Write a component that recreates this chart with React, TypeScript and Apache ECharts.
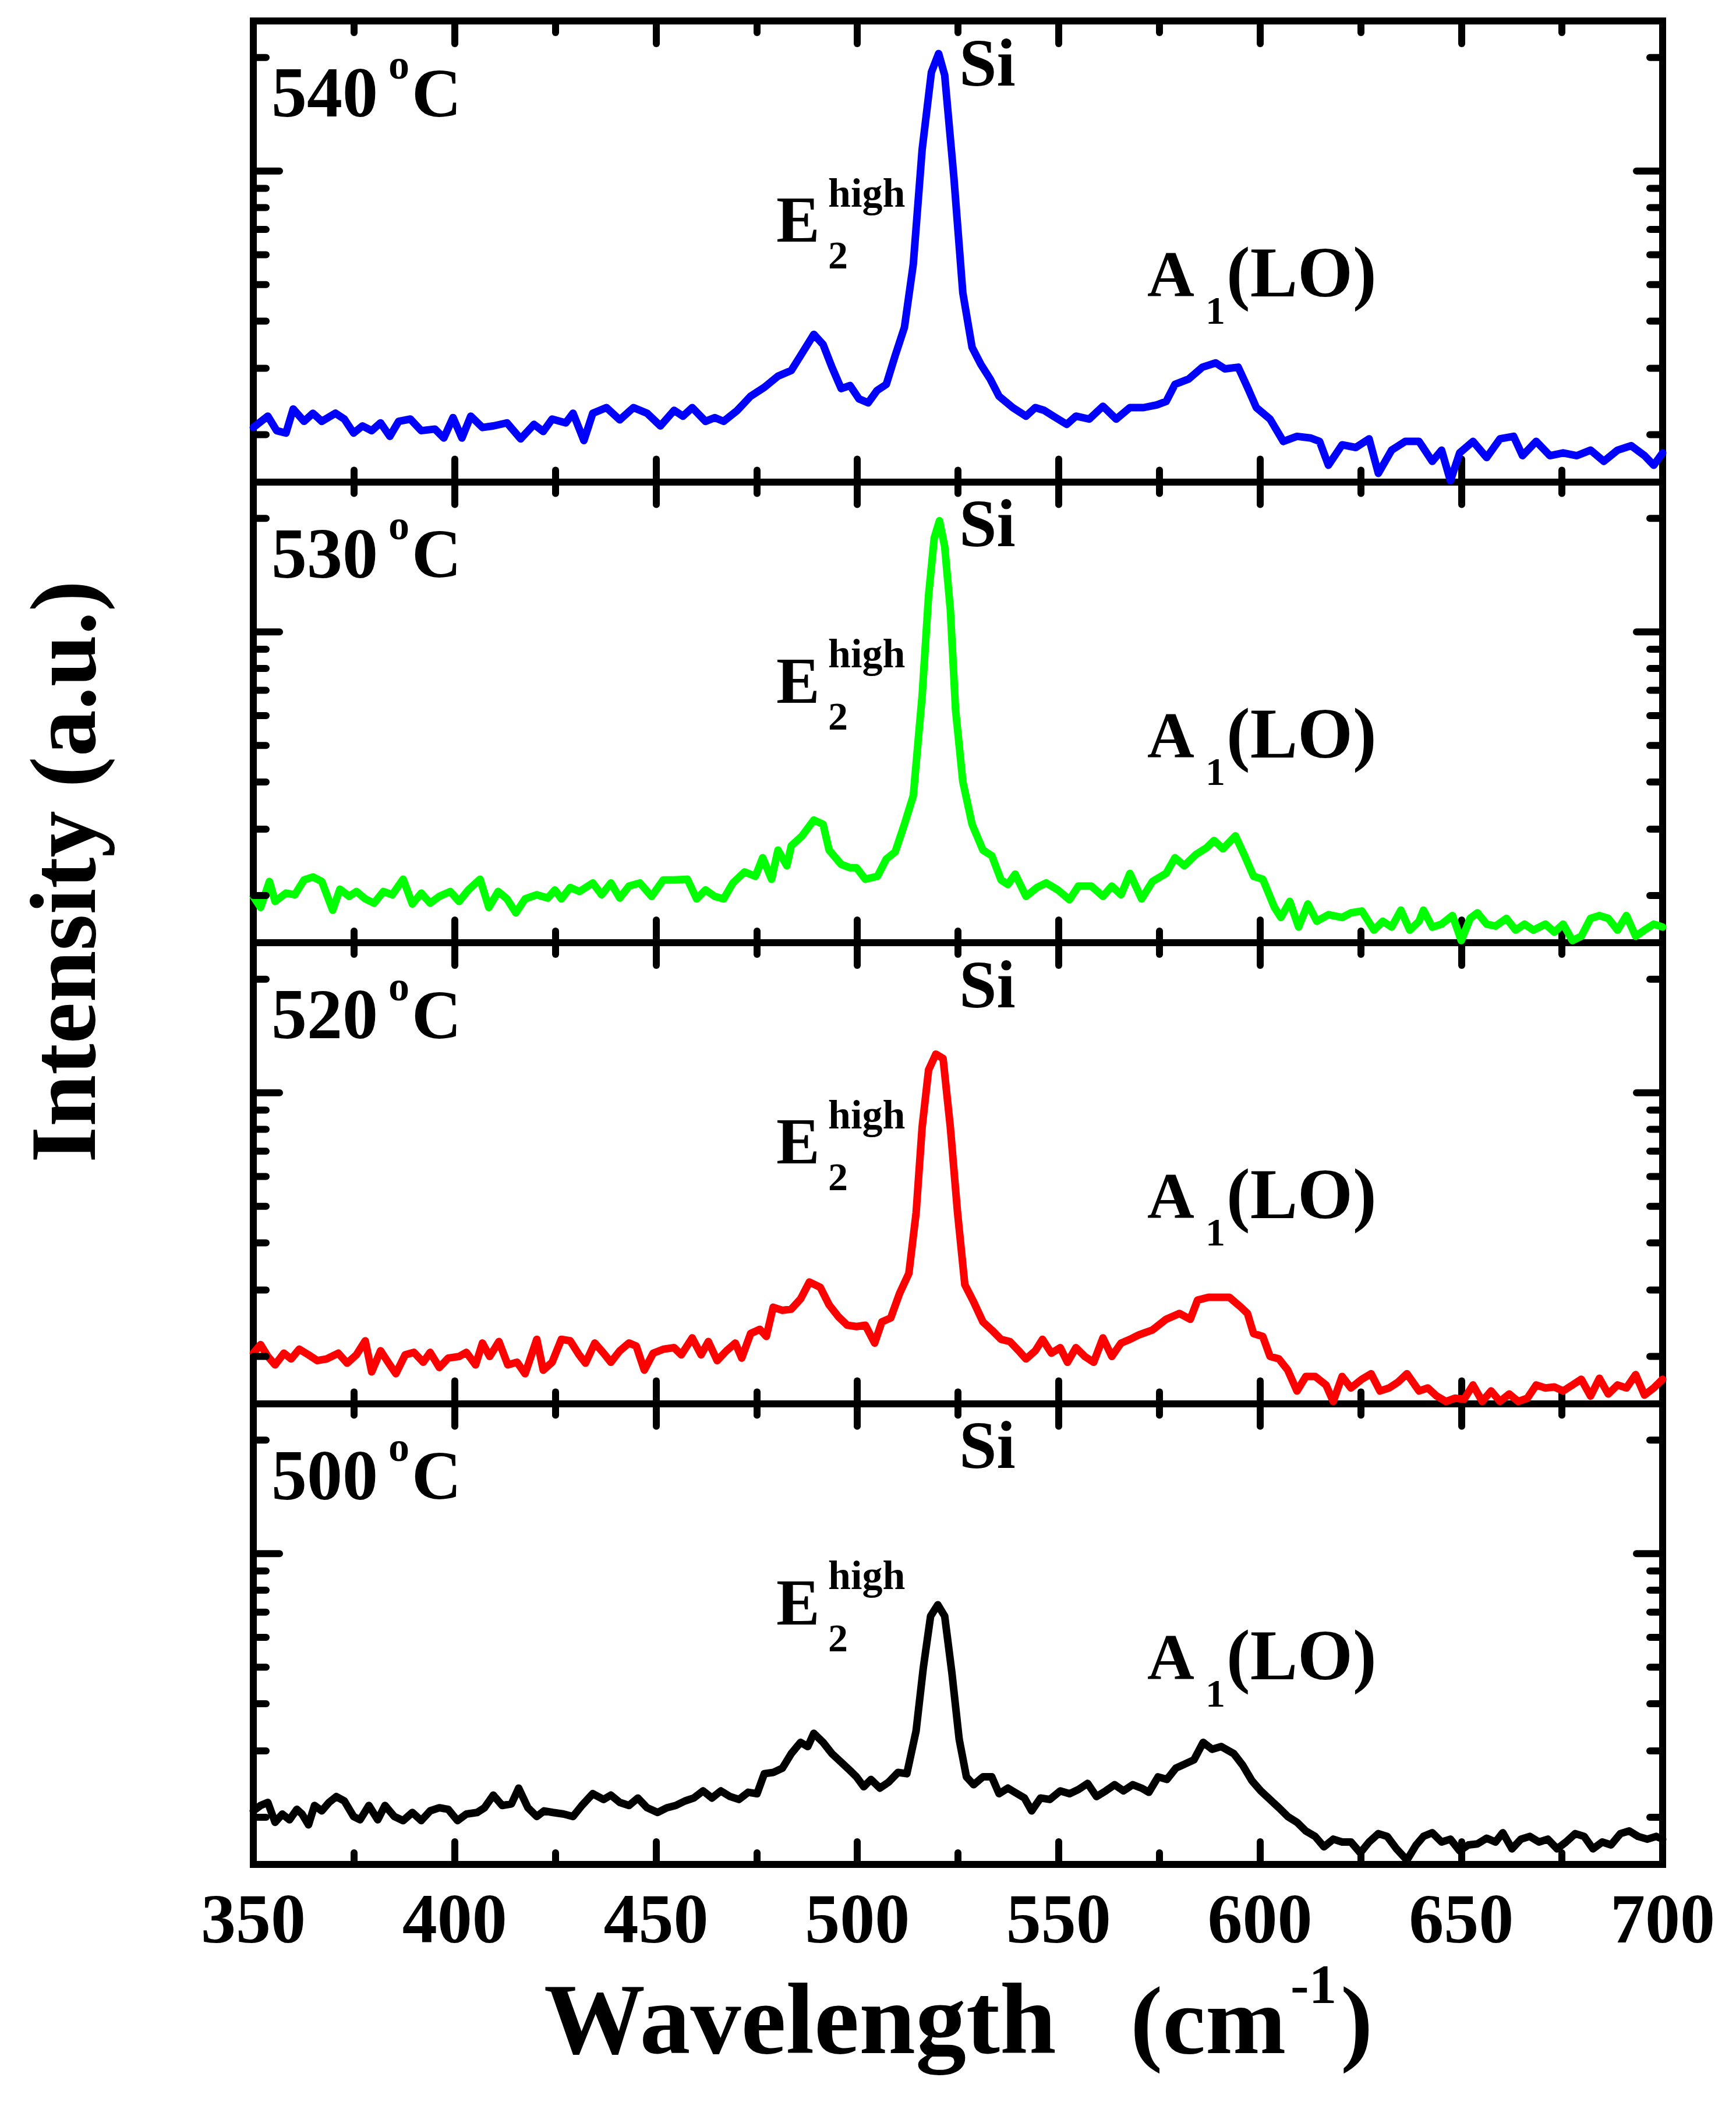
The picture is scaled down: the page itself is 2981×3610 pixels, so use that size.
import React, { useEffect, useRef } from "react";
import * as echarts from "echarts";

// ---------- data ----------
const X_MIN = 350;
const X_MAX = 700;
const X_STEP = 50;
const Y_MIN = 150;
const Y_MAX = 2500;
const Y_MAJOR_TICKS = [1000];
const Y_MINOR_TICKS = [200, 300, 400, 500, 600, 700, 800, 900, 2000];

const TEMPS = ["540", "530", "520", "500"];
const COLORS = ["#0000ff", "#00ff00", "#ff0000", "#000000"];

const WN_540 = [350.0,353.6,355.8,358.1,359.9,362.6,364.8,367.0,370.4,372.6,374.9,377.1,379.4,381.6,383.9,386.1,389.0,391.7,395.1,397.3,399.6,401.8,404.0,406.9,409.6,413.0,416.4,419.7,422.0,424.2,427.6,429.4,432.1,434.3,437.7,441.0,444.4,447.8,451.1,454.5,456.7,459.0,462.3,464.6,466.8,470.2,473.5,476.9,480.3,483.6,485.9,489.2,491.5,493.7,496.0,498.2,500.4,502.7,504.9,507.2,509.4,511.7,513.9,516.1,518.4,520.2,521.7,524.0,526.2,528.5,530.7,533.0,535.2,538.6,541.9,544.2,546.4,548.7,552.0,554.3,557.6,561.0,564.3,567.7,571.1,574.4,576.7,578.9,582.3,585.7,589.0,591.3,594.6,596.9,599.1,602.5,605.8,609.2,612.6,614.8,617.0,620.4,623.8,627.1,629.4,632.7,636.1,639.5,642.8,645.1,647.3,649.6,652.9,656.3,659.6,663.0,665.2,668.6,672.0,675.3,678.7,682.1,685.4,688.8,692.2,695.5,697.8,700.0];
const INT_540 = [209,224,205,202,234,217,228,217,228,220,202,211,205,215,198,217,220,205,207,196,222,196,224,209,211,215,195,213,204,220,215,228,193,228,236,219,236,228,211,232,224,236,217,222,217,232,253,267,286,296,324,369,347,302,265,270,249,243,262,272,324,385,566,1140,1828,2049,1796,957,476,341,307,281,253,236,224,236,232,224,213,224,220,238,220,236,236,240,245,272,281,302,310,299,302,267,236,220,192,198,196,192,166,188,185,195,158,182,192,192,170,182,151,179,192,174,195,198,176,192,176,179,176,182,170,182,187,176,166,179];

const WN_530 = [350.0,351.8,354.0,355.4,358.1,360.3,362.6,364.8,367.0,369.7,371.5,373.8,375.6,377.8,380.0,382.3,384.5,387.2,389.5,391.7,393.9,396.2,398.9,401.1,403.4,406.3,408.5,410.8,413.0,415.2,417.5,420.4,423.1,424.9,426.5,428.7,431.0,434.3,436.5,438.8,441.0,443.3,446.0,448.9,451.8,454.5,457.8,460.1,462.3,464.6,466.8,469.1,472.0,474.7,476.5,478.7,480.3,482.5,483.6,486.3,489.2,491.5,493.0,496.0,498.2,499.8,502.0,505.0,507.2,509.4,511.7,513.9,516.1,517.7,519.1,520.4,521.7,523.1,524.4,526.2,528.5,531.2,533.4,535.7,537.4,539.2,541.9,544.6,546.9,549.8,552.7,554.9,558.1,561.0,563.2,565.5,567.7,570.6,573.3,576.7,578.9,581.2,584.1,586.8,588.6,590.8,593.9,596.2,598.4,600.7,603.6,605.2,607.4,609.6,611.9,614.1,617.0,620.4,622.6,625.3,628.3,630.5,632.7,635.0,637.2,639.5,640.6,642.8,645.1,647.8,650.0,652.2,654.0,656.3,658.5,661.2,663.5,665.7,667.9,670.9,673.1,675.3,677.6,679.8,682.1,684.3,686.5,688.8,691.0,693.3,695.5,697.8,700.0];
const INT_530 = [199,186,218,193,203,201,220,224,218,183,208,199,205,196,191,205,201,221,190,203,191,199,205,193,207,221,186,205,196,180,196,201,197,207,196,210,205,216,201,216,197,212,216,199,220,220,221,196,207,199,196,216,231,225,252,221,264,240,271,288,317,309,264,242,237,237,221,225,250,261,309,368,678,1251,1775,1971,1683,1146,621,401,309,264,255,220,214,228,199,210,216,207,195,212,212,199,212,201,229,196,218,229,252,240,257,268,280,266,288,255,225,221,186,175,193,165,190,171,178,175,180,182,162,171,165,183,162,171,183,165,168,177,152,174,180,168,166,174,162,168,162,168,160,168,152,156,174,177,174,162,177,156,162,168,165];

const WN_520 = [350.0,351.8,353.6,355.4,357.6,359.4,361.4,363.7,365.9,368.2,371.1,373.3,375.6,377.8,379.4,381.6,383.9,385.4,387.7,389.9,392.2,393.9,396.2,398.4,401.1,402.9,405.2,406.9,408.7,411.0,413.2,415.5,417.5,420.4,422.0,424.2,426.5,428.7,430.9,432.5,434.8,437.0,438.8,441.0,443.3,445.1,447.1,449.3,451.8,454.5,456.3,459.0,461.2,463.0,465.2,467.5,469.7,471.3,473.5,475.8,477.4,479.1,481.4,483.6,485.9,488.1,490.8,493.0,495.3,497.5,499.8,502.0,504.3,506.1,508.3,510.5,512.8,514.6,516.1,517.7,519.5,521.3,523.1,524.9,526.7,528.9,531.2,533.4,535.7,537.9,540.1,541.9,544.2,546.0,548.2,550.4,552.2,554.3,556.5,558.7,561.0,563.2,565.5,567.7,569.9,573.3,576.7,580.0,582.7,584.5,587.2,589.5,592.4,595.3,596.9,598.4,600.7,602.5,604.7,606.9,609.2,611.4,613.7,616.4,618.2,620.4,622.6,625.3,627.6,629.8,632.1,634.3,636.5,639.5,641.7,643.9,646.2,648.4,650.7,652.9,655.2,657.4,659.6,661.9,664.1,666.4,668.6,670.9,673.1,675.3,677.6,679.8,682.1,684.3,686.5,688.8,691.0,693.3,695.5,697.8,700.0];
const INT_520 = [204,215,200,190,204,197,209,202,195,197,204,192,202,220,182,207,190,180,202,205,193,205,187,198,200,205,190,217,200,219,190,193,180,222,184,193,222,220,202,192,217,204,193,207,217,213,184,204,209,211,202,224,202,219,195,207,217,198,230,236,226,270,265,267,284,315,305,274,255,242,240,242,217,247,253,294,332,480,811,1150,1266,1233,811,480,310,279,247,235,222,219,207,197,207,222,204,211,193,211,200,193,224,200,217,222,228,235,251,260,251,282,287,287,287,270,260,230,226,200,197,184,162,177,177,168,152,177,165,174,180,162,165,171,180,162,165,157,152,155,154,168,152,162,152,159,152,155,168,165,166,162,168,174,157,175,159,168,165,179,158,165,174];

const WN_500 = [350.0,351.8,353.6,355.4,357.2,359.0,360.8,362.1,363.7,365.2,367.0,368.8,370.6,372.6,374.9,376.5,378.7,380.9,382.7,385.0,387.2,389.5,391.7,393.9,396.2,398.4,400.7,402.9,405.6,407.4,409.6,411.8,414.1,415.9,418.2,420.4,422.2,424.4,427.1,429.4,431.6,434.3,437.0,438.8,441.0,443.3,445.5,447.8,450.4,452.7,454.9,457.2,459.4,461.7,463.9,466.1,468.4,470.6,472.9,475.1,476.9,479.1,481.4,483.6,485.9,487.7,489.2,491.5,493.7,496.0,498.2,499.8,501.6,503.4,505.6,507.8,510.1,512.3,514.6,516.4,518.2,520.0,521.7,523.5,525.3,527.1,528.9,531.2,533.4,535.2,537.4,539.7,541.5,543.3,545.5,547.8,550.4,552.7,554.9,557.2,559.4,561.7,563.9,566.1,568.4,570.6,572.4,574.7,576.9,579.1,581.4,583.6,585.9,588.1,590.4,593.5,595.7,598.0,600.2,602.5,604.7,606.9,609.2,611.4,613.7,615.9,618.2,620.4,622.6,624.9,627.1,629.4,631.6,633.9,636.5,638.8,640.6,642.8,645.1,647.3,649.6,651.8,654.0,656.3,658.5,660.3,662.6,664.8,667.0,669.3,671.5,673.8,676.0,678.3,680.5,682.7,685.0,687.2,689.5,691.7,693.9,696.2,698.4,700.0];
const INT_500 = [208,215,219,194,204,197,210,204,191,215,208,219,227,221,201,197,215,197,215,201,196,206,196,208,212,210,196,204,206,212,229,215,217,239,212,201,208,206,204,201,215,231,223,229,219,215,225,212,206,212,215,221,225,235,225,235,227,223,233,231,261,263,270,295,316,308,334,316,295,280,266,256,241,252,239,248,263,261,339,499,683,732,683,482,322,256,244,256,256,231,239,231,225,208,225,223,235,231,237,246,227,235,244,235,244,239,233,256,252,270,277,284,316,303,308,295,275,250,235,223,212,201,194,184,178,167,175,172,172,161,172,181,178,165,154,169,178,182,172,175,163,169,170,176,172,182,165,175,178,172,175,165,172,181,178,165,172,169,181,184,178,175,178,175];

const SPECTRA = [
  [WN_540, INT_540],
  [WN_530, INT_530],
  [WN_520, INT_520],
  [WN_500, INT_500],
];

// ---------- layout ----------
const W = 2981;
const H = 3610;
const GRID_LEFT = 435;
const GRID_RIGHT_X = 2855;
const GRID_TOP = 36;
const PANEL_H = 791.5;
const FONT_FAMILY = '"Liberation Serif", "Times New Roman", serif';
const AXIS_W = 12;

const font = (size: number) => `bold ${size}px ${FONT_FAMILY}`;

const txt = (text: string, x: number, baseline: number, size: number) => ({
  type: "text",
  x,
  y: baseline - 0.3375 * size,
  z: 100,
  silent: true,
  style: {
    text,
    font: font(size),
    fill: "#000",
    textAlign: "left",
    textVerticalAlign: "middle",
    align: "left",
    verticalAlign: "middle",
  },
});

const zip = (xs: number[], ys: number[]) => {
  const n = Math.min(xs.length, ys.length);
  const out: number[][] = [];
  for (let k = 0; k < n; k++) out.push([xs[k], ys[k]]);
  return out;
};

const makeTickRenderer = (len: number) => (params: any, api: any) => {
  const cs = params.coordSys;
  const p = api.coord([X_MIN, api.value(1)]);
  const style = { stroke: "#000", lineWidth: AXIS_W, lineCap: "round" };
  return {
    type: "group",
    children: [
      { type: "line", shape: { x1: cs.x, y1: p[1], x2: cs.x + len, y2: p[1] }, style },
      { type: "line", shape: { x1: cs.x + cs.width - len, y1: p[1], x2: cs.x + cs.width, y2: p[1] }, style },
    ],
  };
};

function buildOption() {
  const grid: any[] = [];
  const xAxis: any[] = [];
  const yAxis: any[] = [];
  const series: any[] = [];
  const graphic: any[] = [];
  const axisLineStyle = { color: "#000", width: AXIS_W, cap: "square" };
  const tickStyle = { color: "#000", width: AXIS_W, cap: "round" };

  for (let i = 0; i < 4; i++) {
    const top = GRID_TOP + i * PANEL_H;
    grid.push({ left: GRID_LEFT, top, width: GRID_RIGHT_X - GRID_LEFT, height: PANEL_H, containLabel: false });
    for (const pos of ["bottom", "top"]) {
      xAxis.push({
        type: "value",
        gridIndex: i,
        position: pos,
        min: X_MIN,
        max: X_MAX,
        interval: X_STEP,
        axisLine: { show: true, onZero: false, lineStyle: axisLineStyle },
        axisTick: { show: true, inside: true, length: 39, lineStyle: tickStyle },
        minorTick: { show: true, splitNumber: 2, length: 20, lineStyle: tickStyle },
        axisLabel: {
          show: i === 3 && pos === "bottom",
          margin: 33,
          color: "#000",
          fontFamily: FONT_FAMILY,
          fontWeight: "bold",
          fontSize: 120,
        },
        splitLine: { show: false },
        minorSplitLine: { show: false },
      });
    }
    for (const pos of ["left", "right"]) {
      yAxis.push({
        type: "log",
        logBase: 10,
        gridIndex: i,
        position: pos,
        min: Y_MIN,
        max: Y_MAX,
        axisLine: { show: true, onZero: false, lineStyle: axisLineStyle },
        axisTick: { show: false },
        axisLabel: { show: false },
        splitLine: { show: false },
      });
    }
    const [wn, inten] = SPECTRA[i];
    series.push({
      type: "line",
      xAxisIndex: 2 * i,
      yAxisIndex: 2 * i,
      data: zip(wn, inten),
      showSymbol: false,
      symbol: "none",
      silent: true,
      z: 3,
      lineStyle: { color: COLORS[i], width: 13, join: "round", cap: "round" },
    });
    series.push({
      type: "custom",
      coordinateSystem: "cartesian2d",
      xAxisIndex: 2 * i,
      yAxisIndex: 2 * i,
      silent: true,
      z: 4,
      data: Y_MINOR_TICKS.map((v) => [X_MIN, v]),
      renderItem: makeTickRenderer(22),
    });
    series.push({
      type: "custom",
      coordinateSystem: "cartesian2d",
      xAxisIndex: 2 * i,
      yAxisIndex: 2 * i,
      silent: true,
      z: 4,
      data: Y_MAJOR_TICKS.map((v) => [X_MIN, v]),
      renderItem: makeTickRenderer(45),
    });

    const dy = i * PANEL_H;
    graphic.push(txt(TEMPS[i], 466, 200 + dy, 122));
    graphic.push(txt("o", 667, 135 + dy, 72));
    graphic.push(txt("C", 707, 200 + dy, 118));
    graphic.push(txt("Si", 1647, 147 + dy, 116));
    graphic.push(txt("E", 1333, 415 + dy, 112));
    graphic.push(txt("2", 1422, 461 + dy, 68));
    graphic.push(txt("high", 1422, 355 + dy, 70));
    graphic.push(txt("A", 1970, 509 + dy, 112));
    graphic.push(txt("1", 2070, 556 + dy, 68));
    graphic.push(txt("(LO)", 2106, 509 + dy, 122));
  }

  // x axis title
  graphic.push(txt("Wavelength", 934, 3526, 174));
  graphic.push(txt("(cm", 1941, 3526, 166));
  graphic.push(txt("-1", 2216, 3440, 95));
  graphic.push(txt(")", 2302, 3526, 166));
  // y axis title
  graphic.push({
    type: "text",
    x: 109,
    y: 1497,
    rotation: Math.PI / 2,
    z: 100,
    silent: true,
    style: {
      text: "Intensity (a.u.)",
      font: font(160),
      fill: "#000",
      textAlign: "center",
      textVerticalAlign: "middle",
      align: "center",
      verticalAlign: "middle",
    },
  });

  return {
    animation: false,
    backgroundColor: "#ffffff",
    grid,
    xAxis,
    yAxis,
    series,
    graphic,
  };
}

export default function App() {
  const ref = useRef<HTMLDivElement>(null);
  useEffect(() => {
    if (!ref.current) return;
    const chart = echarts.init(ref.current, undefined, { renderer: "svg", width: W, height: H });
    chart.setOption(buildOption() as any);
    return () => chart.dispose();
  }, []);
  return (
    <div
      ref={ref}
      style={{ position: "absolute", left: 0, top: 0, width: W, height: H, background: "#fff" }}
    />
  );
}
